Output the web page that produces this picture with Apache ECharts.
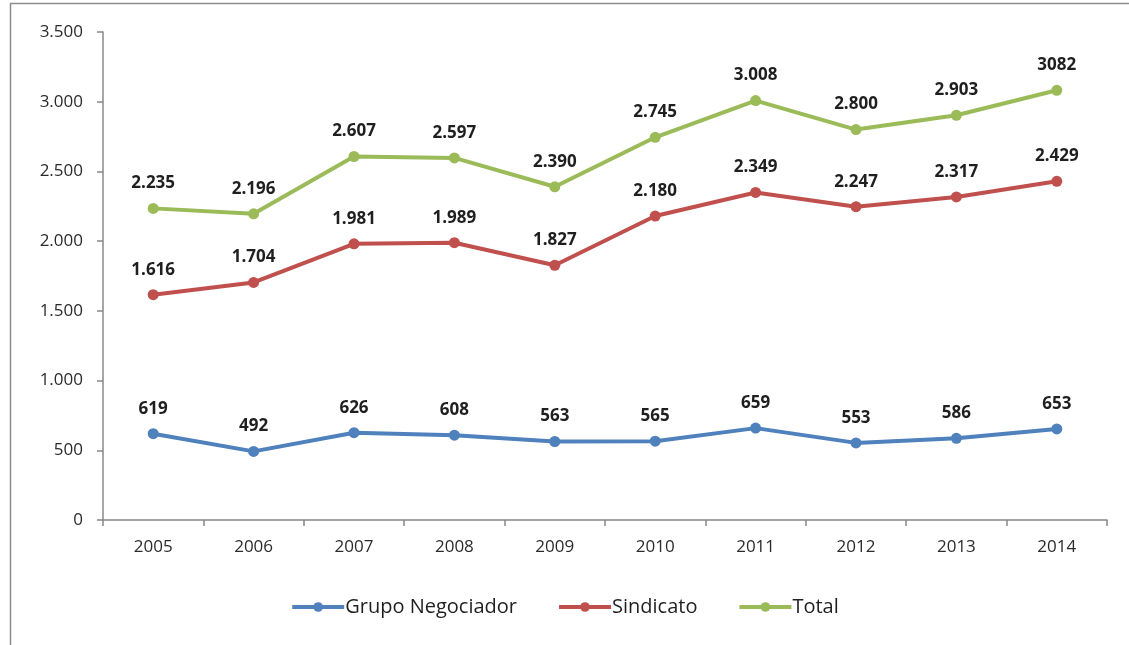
<!DOCTYPE html>
<html>
<head>
<meta charset="utf-8">
<script src="https://cdn.jsdelivr.net/npm/echarts@6/dist/echarts.min.js"></script>
<style>
  html, body { margin: 0; padding: 0; background: #fff; }
  #chart { width: 1129px; height: 645px; }
</style>
</head>
<body>
<div id="chart"></div>
<script>
const years = ['2005', '2006', '2007', '2008', '2009', '2010', '2011', '2012', '2013', '2014']
const grupoNegociador = [619, 492, 626, 608, 563, 565, 659, 553, 586, 653]
const sindicato = [1616, 1704, 1981, 1989, 1827, 2180, 2349, 2247, 2317, 2429]
const total = [2235, 2196, 2607, 2597, 2390, 2745, 3008, 2800, 2903, 3082]

// pontos de milhar como no original (o último total aparece sem ponto)
const fmt = v => {
  const s = String(v)
  return s.length > 3 ? s.slice(0, -3) + '.' + s.slice(-3) : s
}

const chart = echarts.init(document.getElementById('chart'))

const font = '"Open Sans", "Liberation Sans", sans-serif'

function makeSeries (name, data, color, rawLast) {
  return {
    name: name,
    type: 'line',
    data: data,
    symbol: 'circle',
    symbolSize: 11,
    lineStyle: { width: 4, color: color },
    itemStyle: { color: color },
    label: {
      show: true,
      position: 'top',
      distance: 11,
      fontFamily: font,
      fontWeight: 'bold',
      fontSize: 17,
      color: '#1f1f1f',
      formatter: p => (rawLast && p.dataIndex === data.length - 1) ? String(p.value) : fmt(p.value)
    }
  }
}

chart.setOption({
  animation: false,
  graphic: [{
    type: 'polyline',
    shape: { points: [[10.5, 660], [10.5, 3.5], [1140, 3.5]] },
    style: { stroke: '#8c8c8c', lineWidth: 1.5, fill: null }
  }],
  grid: { left: 103, right: 22, top: 32, bottom: 125 },
  legend: {
    bottom: 23,
    left: 'center',
    itemWidth: 52,
    itemHeight: 12,
    itemGap: 40,
    lineStyle: { width: 4 },
    textStyle: { fontFamily: font, fontSize: 20, color: '#1f1f1f', padding: [0, 0, 0, -4] },
    data: ['Grupo Negociador', 'Sindicato', 'Total']
  },
  xAxis: {
    type: 'category',
    data: years,
    boundaryGap: true,
    axisLine: { lineStyle: { color: '#888', width: 1.5 } },
    axisTick: { show: true, length: 6, lineStyle: { color: '#888', width: 1.5 } },
    axisLabel: { fontFamily: font, fontSize: 17, color: '#2b2b2b', margin: 19 }
  },
  yAxis: {
    type: 'value',
    min: 0,
    max: 3500,
    interval: 500,
    axisLine: { show: true, lineStyle: { color: '#888', width: 1.5 } },
    axisTick: { show: true, length: 6, lineStyle: { color: '#888', width: 1.5 } },
    splitLine: { show: false },
    axisLabel: { fontFamily: font, fontSize: 17, color: '#2b2b2b', margin: 20, formatter: v => fmt(v) }
  },
  series: [
    makeSeries('Grupo Negociador', grupoNegociador, '#4f81bd', false),
    makeSeries('Sindicato', sindicato, '#c0504d', false),
    makeSeries('Total', total, '#9bbb59', true)
  ]
})
</script>
</body>
</html>
